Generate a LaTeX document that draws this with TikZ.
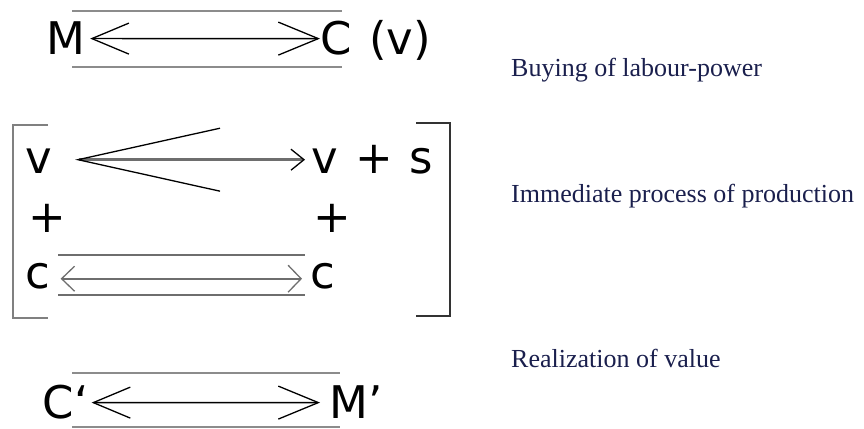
\documentclass[tikz,border=0pt]{standalone}
\usepackage{fontspec}
\setmainfont{Liberation Serif}
\newfontfamily\diafont{DejaVu Sans}
\usetikzlibrary{arrows.meta}
\definecolor{txtnavy}{RGB}{26,31,77}
\definecolor{bargray}{RGB}{140,140,140}
\definecolor{shaftgray}{RGB}{110,110,110}
\tikzset{
  lt/.style={inner sep=0pt, anchor=base west, font=\diafont\fontsize{45}{54}\selectfont},
  rt/.style={inner sep=0pt, anchor=base west, text=txtnavy, font=\fontsize{26}{31}\selectfont},
  bar/.style={draw=bargray, line width=2.5pt},
  cbar/.style={draw=shaftgray, line width=2pt},
  bigarr/.style={line width=1.3pt, {Straight Barb[length=37pt,width=31pt,line width=1.3pt]}-{Straight Barb[length=40pt,width=33pt,line width=1.3pt]}},
  varr/.style={draw=shaftgray, line width=2.6pt, {Straight Barb[length=142pt,width=63pt,line width=1.3pt,color=black]}-{Straight Barb[length=13pt,width=21pt,line width=1.3pt,color=black]}},
  carr/.style={draw=shaftgray, line width=2pt, {Straight Barb[length=13pt,width=25pt,line width=1.3pt]}-{Straight Barb[length=13pt,width=27pt,line width=1.3pt]}},
  brk/.style={line width=2pt},
}
\begin{document}
\begin{tikzpicture}[x=1pt,y=-1pt]
\useasboundingbox (0,0) rectangle (864,428);
% row 1
\node[lt] (M) at (46,55) {M};
\node[lt] (C1) at (320,55) {C};
\node[lt] (v0) at (369,55) {(v)};
\draw[bar] (72,11) -- (342,11);
\draw[bar] (72,67) -- (342,67);
\draw[bigarr] ([xshift=5pt]M.east) -- (C1.west);
% bracket block
\node[lt] (v1) at (25,173) {v};
\node[lt] (v2) at (311,173) {v};
\node[lt] (pl0) at (355,173) {+};
\node[lt] (s0) at (409.5,173) {s};
\node[lt] (pl1) at (28,232) {+};
\node[lt] (pl2) at (313,232) {+};
\node[lt] (c1) at (25.5,288) {c};
\node[lt] (c2) at (310,288) {c};
\draw[varr] ([xshift=23pt,yshift=1pt]v1.east) -- ([xshift=-6pt,yshift=1pt]v2.west);
\draw[cbar] (58,255) -- (305,255);
\draw[cbar] (58,295) -- (305,295);
\draw[carr] ([xshift=10pt,yshift=-3pt]c1.east) -- ([xshift=-8pt,yshift=-3pt]c2.west);
\draw[brk, draw=gray] (48,125) -- (13,125) -- (13,318) -- (48,318);
\draw[brk, draw=black!80] (416,123) -- (450,123) -- (450,316) -- (416,316);
% row 3
\node[lt] (Cp) at (42.5,418) {C‘};
\node[lt] (Mp) at (329,418) {M’};
\draw[bar] (72,373) -- (340,373);
\draw[bar] (72,427) -- (340,427);
\draw[bigarr] ([xshift=3pt,yshift=-1pt]Cp.east) -- ([xshift=-9pt,yshift=-1pt]Mp.west);
% right texts
\node[rt] (t1) at (511,77) {Buying of labour-power};
\node[rt] (t2) at (511,202) {Immediate process of production};
\node[rt] (t3) at (511,367) {Realization of value};
\end{tikzpicture}
\end{document}
